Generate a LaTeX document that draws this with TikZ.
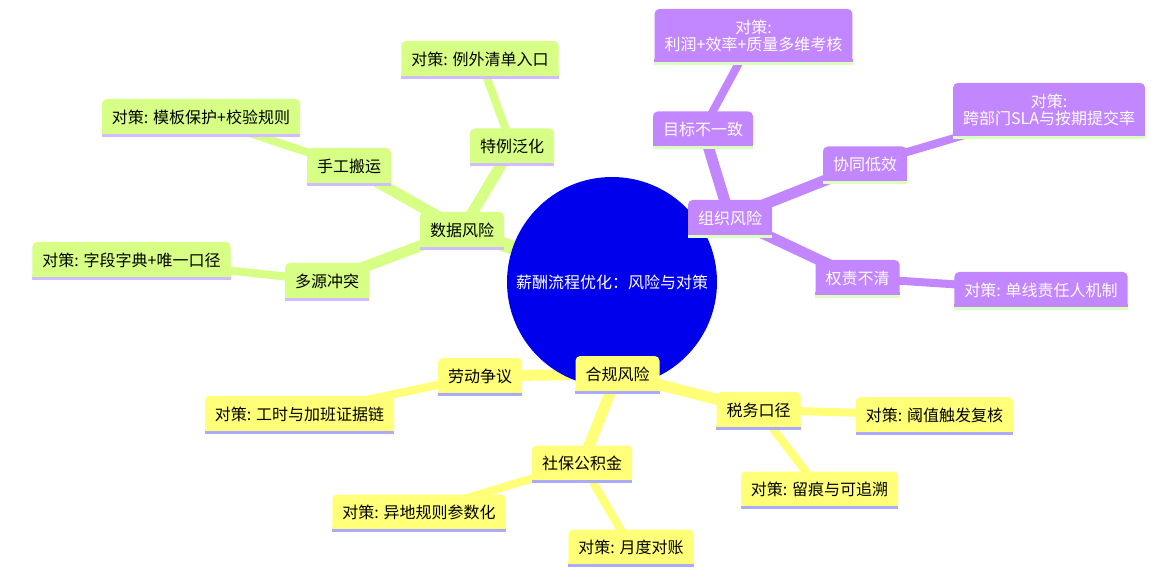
\documentclass[tikz,border=0pt]{standalone}
\usepackage{fontspec}
\setmainfont{Noto Sans CJK SC}
\usetikzlibrary{backgrounds}
\definecolor{rootblue}{HTML}{0000EC}
\definecolor{lawfill}{HTML}{FFFF78}
\definecolor{lawline}{HTML}{AAAAFF}
\definecolor{datafill}{HTML}{D7FF86}
\definecolor{dataline}{HTML}{D0BCFF}
\definecolor{orgfill}{HTML}{C286FF}
\definecolor{orgline}{HTML}{DCFFC0}
\begin{document}
\begin{tikzpicture}[x=0.75pt,y=-0.75pt,
  box/.style 2 args={fill=#1, rounded corners=3.5pt, inner xsep=7.5pt, inner ysep=0pt,
    minimum height=27pt, font=\fontsize{12pt}{12.75pt}\selectfont, align=center,
    append after command={\pgfextra{\let\boxnode\tikzlastnode}
      ([yshift=1.75pt]\boxnode.south west) edge[draw=#1, line width=3.5pt] ([xshift=3.5pt,yshift=1.75pt]\boxnode.south west)
      ([yshift=1.75pt]\boxnode.south east) edge[draw=#1, line width=3.5pt] ([xshift=-3.5pt,yshift=1.75pt]\boxnode.south east)
      (\boxnode.south west) edge[draw=#2, line width=2.25pt] (\boxnode.south east)}},
  lawbox/.style={box={lawfill}{lawline}},
  databox/.style={box={datafill}{dataline}},
  orgbox/.style={box={orgfill}{orgline}, text=white},
  twoline/.style={minimum height=40.5pt},
  rootedge/.style={line width=10.5pt},
  midedge/.style={line width=8.25pt},
  leafedge/.style={line width=6pt}]
\useasboundingbox (0,0) rectangle (1160,577);
\node[circle, fill=rootblue, minimum size=157.5pt, inner sep=0pt, text=white,
  font=\fontsize{12pt}{14pt}\selectfont] (root) at (612,282) {薪酬流程优化：风险与对策};
\node[databox] (data) at (462,230) {数据风险};
\node[databox] (spec) at (512,146.5) {特例泛化};
\node[databox] (specfix) at (480,59) {对策: 例外清单入口};
\node[databox] (manual) at (349,166) {手工搬运};
\node[databox] (manualfix) at (201,117) {对策: 模板保护+校验规则};
\node[databox] (multi) at (327,281) {多源冲突};
\node[databox] (multifix) at (131.5,260) {对策: 字段字典+唯一口径};
\node[orgbox] (org) at (730,218) {组织风险};
\node[orgbox] (goal) at (703,129.5) {目标不一致};
\node[orgbox, twoline] (goalfix) at (753.5,36) {对策:\\利润+效率+质量多维考核};
\node[orgbox] (coop) at (865,164.5) {协同低效};
\node[orgbox, twoline] (coopfix) at (1049,110) {对策:\\跨部门SLA与按期提交率};
\node[orgbox] (duty) at (857.5,278) {权责不清};
\node[orgbox] (dutyfix) at (1041,290) {对策: 单线责任人机制};
\node[lawbox] (law) at (617.5,374) {合规风险};
\node[lawbox] (labor) at (480,376) {劳动争议};
\node[lawbox] (laborfix) at (299.5,414) {对策: 工时与加班证据链};
\node[lawbox] (tax) at (758.5,410) {税务口径};
\node[lawbox] (taxcheck) at (934.5,415) {对策: 阈值触发复核};
\node[lawbox] (taxtrace) at (819.5,489.5) {对策: 留痕与可追溯};
\node[lawbox] (social) at (582,463.5) {社保公积金};
\node[lawbox] (socialrule) at (419,512.5) {对策: 异地规则参数化};
\node[lawbox] (socialcheck) at (631,547.5) {对策: 月度对账};
\begin{scope}[on background layer]
\draw[rootedge, draw=datafill] (root.center) -- (data.center);
\draw[rootedge, draw=orgfill] (root.center) -- (org.center);
\draw[rootedge, draw=lawfill] (root.center) -- (law.center);
\draw[midedge, draw=datafill] (data.center) -- (spec.center);
\draw[midedge, draw=datafill] (data.center) -- (manual.center);
\draw[midedge, draw=datafill] (data.center) -- (multi.center);
\draw[leafedge, draw=datafill] (spec.center) -- (specfix.center);
\draw[leafedge, draw=datafill] (manual.center) -- (manualfix.center);
\draw[leafedge, draw=datafill] (multi.center) -- (multifix.center);
\draw[midedge, draw=orgfill] (org.center) -- (goal.center);
\draw[midedge, draw=orgfill] (org.center) -- (coop.center);
\draw[midedge, draw=orgfill] (org.center) -- (duty.center);
\draw[leafedge, draw=orgfill] (goal.center) -- (goalfix.center);
\draw[leafedge, draw=orgfill] (coop.center) -- (coopfix.center);
\draw[leafedge, draw=orgfill] (duty.center) -- (dutyfix.center);
\draw[midedge, draw=lawfill] (law.center) -- (labor.center);
\draw[midedge, draw=lawfill] (law.center) -- (tax.center);
\draw[midedge, draw=lawfill] (law.center) -- (social.center);
\draw[leafedge, draw=lawfill] (labor.center) -- (laborfix.center);
\draw[leafedge, draw=lawfill] (tax.center) -- (taxcheck.center);
\draw[leafedge, draw=lawfill] (tax.center) -- (taxtrace.center);
\draw[leafedge, draw=lawfill] (social.center) -- (socialrule.center);
\draw[leafedge, draw=lawfill] (social.center) -- (socialcheck.center);
\end{scope}
\end{tikzpicture}
\end{document}
